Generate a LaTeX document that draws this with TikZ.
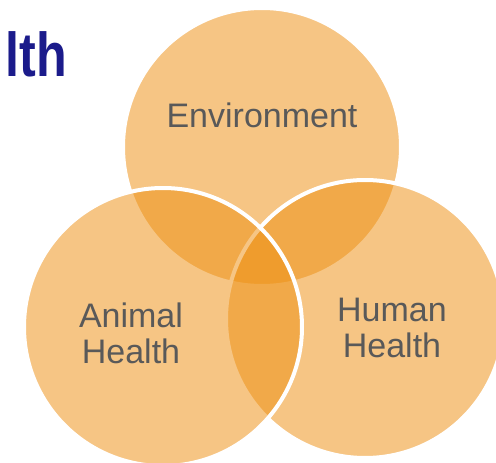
\documentclass[tikz,border=0pt]{standalone}
\usepackage{fontspec}
\setmainfont{Liberation Sans}
\definecolor{vennorange}{RGB}{238,145,20}
\definecolor{labelgray}{RGB}{89,89,89}
\definecolor{titleblue}{RGB}{27,27,139}
\tikzset{
  venn/.style={fill=vennorange, fill opacity=0.52, draw=white, draw opacity=1, line width=4pt},
  vlabel/.style={text=labelgray, font=\fontsize{34}{35.5}\selectfont, align=center, inner sep=0pt, anchor=base},
}
\begin{document}
\begin{tikzpicture}[x=1pt,y=-1pt]
\useasboundingbox (0,0) rectangle (496,463);
\fill[white] (0,0) rectangle (496,463);
\node[text=titleblue, font=\fontsize{62}{64}\bfseries\selectfont, anchor=base west, inner sep=0pt] (title) at (5.7,76) {\scalebox{0.81}[1]{lth}};
\draw[venn] (262,147) circle[radius=139];
\draw[venn] (365,319) circle[radius=139];
\draw[venn] (163,327) circle[radius=139];
\node[vlabel] (env) at (262,127) {Environment};
\node[vlabel] (animal) at (131,363) {Animal\\Health};
\node[vlabel] (human) at (392,357) {Human\\Health};
\end{tikzpicture}
\end{document}
